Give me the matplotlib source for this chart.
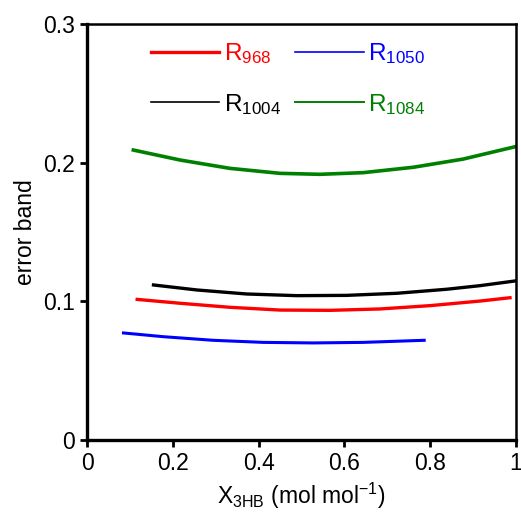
import matplotlib
matplotlib.use("Agg")
import matplotlib.pyplot as plt

plt.rcParams['font.family'] = ['Liberation Sans', 'DejaVu Sans']
plt.rcParams['font.size'] = 16

# error band vs composition
x_968 = [0.117, 0.217, 0.333, 0.450, 0.566, 0.683, 0.800, 0.916, 0.986]
y_968 = [0.1014, 0.0986, 0.0957, 0.0937, 0.0935, 0.0945, 0.0969, 0.1002, 0.1026]

x_1004 = [0.155, 0.256, 0.372, 0.489, 0.605, 0.722, 0.838, 0.916, 0.998]
y_1004 = [0.1118, 0.1082, 0.1053, 0.1041, 0.1043, 0.1058, 0.1087, 0.1113, 0.1147]

x_1050 = [0.085, 0.178, 0.294, 0.411, 0.527, 0.644, 0.786]
y_1050 = [0.0772, 0.0745, 0.0719, 0.0704, 0.0700, 0.0704, 0.0719]

x_1084 = [0.108, 0.217, 0.333, 0.450, 0.543, 0.644, 0.761, 0.877, 0.998]
y_1084 = [0.2091, 0.2019, 0.1959, 0.1923, 0.1916, 0.1928, 0.1967, 0.2026, 0.2115]

x_ticks = [0, 0.2, 0.4, 0.6, 0.8, 1.0]
x_ticklabels = ['0', '0.2', '0.4', '0.6', '0.8', '1']
y_ticks = [0, 0.1, 0.2, 0.3]
y_ticklabels = ['0', '0.1', '0.2', '0.3']

fig = plt.figure(figsize=(5.21, 5.12), dpi=100)
ax = fig.add_axes([87 / 521, 1 - 440 / 512, 429 / 521, 416 / 512])

l968, = ax.plot(x_968, y_968, color='#ff0000', lw=2.4, label=r'R$\mathregular{_{968}}$')
l1004, = ax.plot(x_1004, y_1004, color='black', lw=2.4, label=r'R$\mathregular{_{1004}}$')
l1050, = ax.plot(x_1050, y_1050, color='#0000ff', lw=2.2, label=r'R$\mathregular{_{1050}}$')
l1084, = ax.plot(x_1084, y_1084, color='#008000', lw=2.6, label=r'R$\mathregular{_{1084}}$')

ax.set_xlim(0, 1)
ax.set_ylim(0, 0.3)
ax.set_xticks(x_ticks)
ax.set_xticklabels(x_ticklabels)
ax.set_yticks(y_ticks)
ax.set_yticklabels(y_ticklabels)
ax.tick_params(direction='out', length=5, width=2, pad=4, labelsize=16.5)

for side in ['left', 'bottom']:
    ax.spines[side].set_linewidth(2.4)
for side in ['top', 'right']:
    ax.spines[side].set_linewidth(1.8)

ax.set_xlabel(r'X$\mathregular{_{3HB}}$ (mol mol$\mathregular{^{-1}}$)', fontsize=16.5, labelpad=4)
ax.set_ylabel('error band', fontsize=16.5, labelpad=4)

leg = ax.legend(handles=[l968, l1004, l1050, l1084], ncol=2, frameon=False,
                loc='upper left', bbox_to_anchor=(0.149, 0.958),
                handlelength=2.8, handletextpad=0.2, columnspacing=0.6,
                labelspacing=1.05, borderpad=0, borderaxespad=0, fontsize=17.5)
for line, txt, lw in zip(leg.get_lines(), leg.get_texts(), [2.4, 1.2, 1.2, 1.4]):
    line.set_linewidth(lw)
    txt.set_color(line.get_color())

fig.savefig('out.png', dpi=100)
